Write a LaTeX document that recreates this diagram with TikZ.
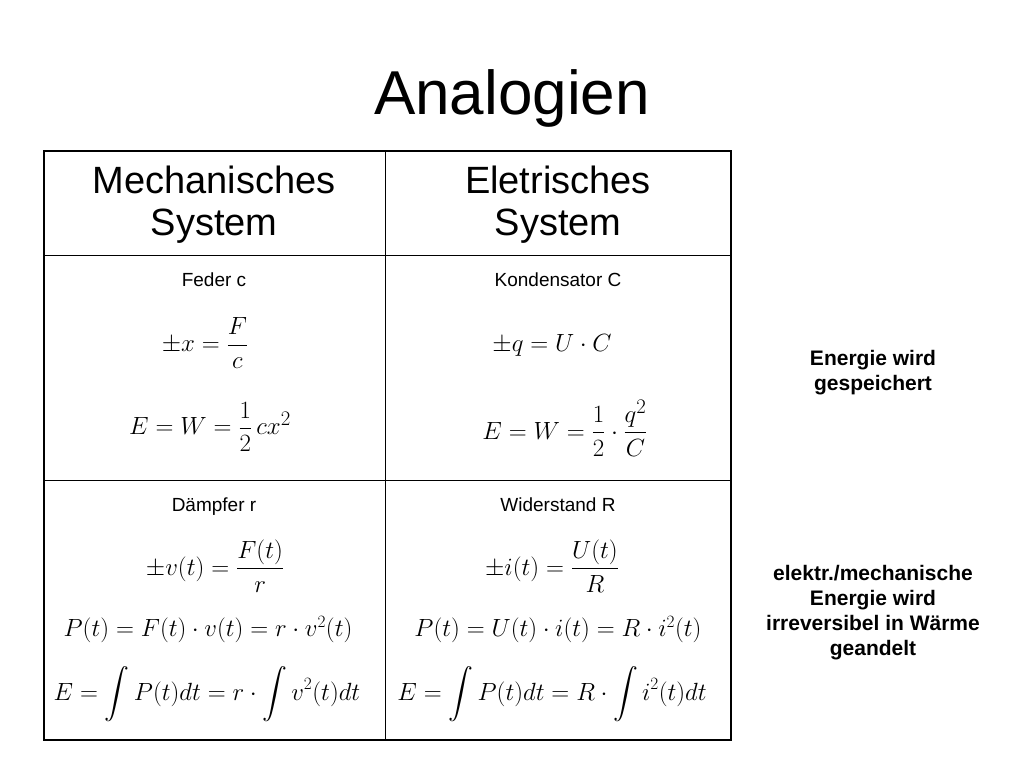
\documentclass[tikz,border=0pt]{standalone}
\usepackage{fontspec}
\setmainfont{Liberation Sans}
\usepackage{amsmath}
\begin{document}
\begin{tikzpicture}[x=1pt,y=-1pt,
 hdr/.style={font=\fontsize{38}{42}\selectfont,align=center},
 lbl/.style={font=\fontsize{19}{21}\selectfont,anchor=base},
 eq/.style={font=\fontsize{33}{37}\selectfont},
 eqm/.style={font=\fontsize{29}{33}\selectfont},
 eqs/.style={font=\fontsize{23}{27}\selectfont},
 side/.style={font=\fontsize{21}{25}\selectfont\bfseries,align=center}]
\useasboundingbox (0,0) rectangle (1024,768);
\node[font=\fontsize{62}{66}\selectfont] (title) at (512,98) {Analogien};
\draw[line width=1.5pt] (44,151) rectangle (731,740);
\draw[line width=1pt] (385,151) -- (385,740);
\draw[line width=1pt] (44,255) -- (731,255);
\draw[line width=1pt] (44,480) -- (731,480);
\node[hdr] (h1) at (214,205) {Mechanisches\\System};
\node[hdr] (h2) at (558,205) {Eletrisches\\System};
\node[lbl] (l1) at (214,286) {Feder c};
\node[lbl] (l2) at (558,286) {Kondensator C};
\node[eq] (e1) at (205,343) {$\pm x=\dfrac{F}{c}$};
\node[eqm] (e2) at (210,427) {$E=W=\dfrac{1}{2}\,cx^2$};
\node[eq] (e3) at (552,345) {$\pm q=U\cdot C$};
\node[eqm] (e4) at (565,428) {$E=W=\dfrac{1}{2}\cdot\dfrac{q^2}{C}$};
\node[lbl] (l3) at (214,511) {Dämpfer r};
\node[lbl] (l4) at (558,511) {Widerstand R};
\node[eq] (e5) at (215,566) {$\pm v(t)=\dfrac{F(t)}{r}$};
\node[eq] (e6) at (552,566) {$\pm i(t)=\dfrac{U(t)}{R}$};
\node[eqs] (e7) at (208,630) {$P(t)=F(t)\cdot v(t)=r\cdot v^2(t)$};
\node[eqs] (e8) at (558,630) {$P(t)=U(t)\cdot i(t)=R\cdot i^2(t)$};
\node[eqs] (e9) at (207,694) {$E=\displaystyle\int P(t)dt=r\cdot\int v^2(t)dt$};
\node[eqs] (e10) at (552,694) {$E=\displaystyle\int P(t)dt=R\cdot\int i^2(t)dt$};
\node[side] (s1) at (873,373) {Energie wird\\gespeichert};
\node[side] (s2) at (873,613) {elektr./mechanische\\Energie wird\\irreversibel in Wärme\\geandelt};
\end{tikzpicture}
\end{document}
